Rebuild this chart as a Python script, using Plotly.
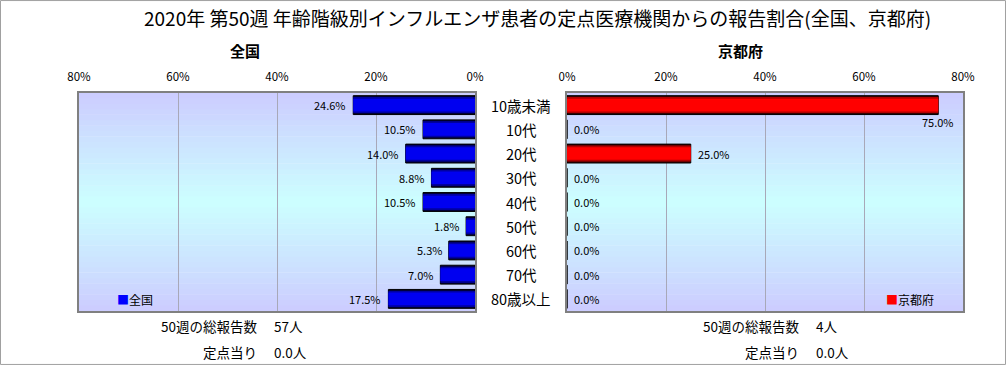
import plotly.graph_objects as go

categories = ["10歳未満", "10代", "20代", "30代", "40代", "50代", "60代", "70代", "80歳以上"]
zenkoku = [24.6, 10.5, 14.0, 8.8, 10.5, 1.8, 5.3, 7.0, 17.5]
kyoto = [75.0, 0.0, 25.0, 0.0, 0.0, 0.0, 0.0, 0.0, 0.0]
tick_vals = [0, 20, 40, 60, 80]
tick_text = ["0%", "20%", "40%", "60%", "80%"]
title_text = "2020年 第50週 年齢階級別インフルエンザ患者の定点医療機関からの報告割合(全国、京都府)"
left_name, right_name = "全国", "京都府"
left_total, right_total = "57人", "4人"
left_per, right_per = "0.0人", "0.0人"

W, H = 1006, 365
FONT = "Noto Sans CJK JP"

def px(x):
    return x / W

def py(y):
    return 1 - y / H

fig = go.Figure()

layers_blue = [(0.78, "#00003a"), (0.66, "#0000a0"), (0.52, "#0000f0")]
layers_red = [(0.78, "#3a0000"), (0.66, "#b00000"), (0.52, "#ff0000")]

for i, (w, c) in enumerate(layers_blue):
    fig.add_trace(go.Bar(x=zenkoku, y=categories, orientation="h", width=w,
                         marker=dict(color=c, line=dict(color="black", width=1 if i == 0 else 0)),
                         xaxis="x", yaxis="y", showlegend=False, hoverinfo="skip"))
for i, (w, c) in enumerate(layers_red):
    fig.add_trace(go.Bar(x=kyoto, y=categories, orientation="h", width=w,
                         marker=dict(color=c, line=dict(color="black", width=1 if i == 0 else 0)),
                         xaxis="x2", yaxis="y2", showlegend=False, hoverinfo="skip"))

LX = [px(79), px(475)]
RX = [px(567), px(963)]
YD = [py(311), py(93)]
n = len(categories)

axis_common = dict(tickvals=tick_vals, ticktext=tick_text, side="top", showline=True, mirror=True,
                   linecolor="#808080", linewidth=1.5, showgrid=True, gridcolor="#a8a8b8", gridwidth=1,
                   zeroline=False, ticks="outside", ticklen=6, tickcolor="rgba(0,0,0,0)", automargin=False,
                   tickfont=dict(family=FONT, size=11.5, color="black"))
yaxis_common = dict(domain=YD, type="category", categoryorder="array", categoryarray=categories,
                    range=[n - 0.5, -0.5], autorange=False,
                    showticklabels=False, showline=True, mirror=True, linecolor="#808080", linewidth=1.5,
                    showgrid=False, zeroline=False, automargin=False)
fig.update_layout(
    xaxis=dict(domain=LX, range=[80, 0], anchor="y", **axis_common),
    xaxis2=dict(domain=RX, range=[0, 80], anchor="y2", **axis_common),
    yaxis=dict(anchor="x", **yaxis_common),
    yaxis2=dict(anchor="x2", **yaxis_common),
    barmode="overlay",
    width=W, height=H,
    margin=dict(l=0, r=0, t=0, b=0, pad=0, autoexpand=False),
    paper_bgcolor="white",
    plot_bgcolor="rgba(0,0,0,0)",
    font=dict(family=FONT, size=11, color="black"),
    showlegend=False,
)

# gradient background strips
shapes = []
N = 40
top = (204, 204, 255)
mid = (204, 255, 255)
for xr, yr in [("x domain", "y domain"), ("x2 domain", "y2 domain")]:
    for k in range(N):
        t = (k + 0.5) / N
        f = 1 - abs(t - 0.5) * 2
        col = tuple(round(top[j] + (mid[j] - top[j]) * f) for j in range(3))
        shapes.append(dict(type="rect", xref=xr, yref=yr, x0=0, x1=1, y0=k / N, y1=(k + 1) / N + 0.002,
                           fillcolor="rgb(%d,%d,%d)" % col, line=dict(width=0), layer="below"))
shapes.append(dict(type="rect", xref="paper", yref="paper", x0=0.0005, x1=0.9995, y0=0.0015, y1=0.9985,
                   line=dict(color="#a0a0a0", width=1), fillcolor="rgba(0,0,0,0)"))
fig.update_layout(shapes=shapes)

ann = []

def add(text, x, y, xanchor="center", size=12, **kw):
    ann.append(dict(text=text, x=px(x), y=py(y), xref="paper", yref="paper", xanchor=xanchor,
                    yanchor="middle", showarrow=False, font=dict(size=size, family=FONT), **kw))

add(title_text, 537, 17, size=19)
add("<b>" + left_name + "</b>", 245, 51, size=15)
add("<b>" + right_name + "</b>", 740, 51, size=15)
for c in categories:
    ann.append(dict(text=c, x=px(521), xref="paper", y=c, yref="y", xanchor="center", yanchor="middle",
                    showarrow=False, font=dict(size=14.5, family=FONT)))
for c, v in zip(categories, zenkoku):
    ann.append(dict(text="%.1f%%" % v, x=v, y=c, xref="x", yref="y", xanchor="right", yanchor="middle",
                    xshift=-5, showarrow=False, font=dict(size=11, family=FONT)))
for c, v in zip(categories, kyoto):
    if v > 65:
        ann.append(dict(text="%.1f%%" % v, x=v, y=c, xref="x2", yref="y2", xanchor="right", yanchor="middle",
                        xshift=18, yshift=-17, showarrow=False, font=dict(size=11, family=FONT)))
    else:
        ann.append(dict(text="%.1f%%" % v, x=v, y=c, xref="x2", yref="y2", xanchor="left", yanchor="middle",
                        xshift=5, showarrow=False, font=dict(size=11, family=FONT)))
add("<span style='color:#0000ff'>■</span>" + left_name, 115, 299, xanchor="left", size=12)
add("<span style='color:#ff0000'>■</span>" + right_name, 884, 299, xanchor="left", size=12)
for xr, total, per in [(259, left_total, left_per), (801, right_total, right_per)]:
    add("50週の総報告数", xr, 326, xanchor="right", size=13.5)
    add(total, xr + 13, 326, xanchor="left", size=13.5)
    add("定点当り", xr, 352, xanchor="right", size=13.5)
    add(per, xr + 13, 352, xanchor="left", size=13.5)
fig.update_layout(annotations=ann)

fig.write_html("out.html", config={"displayModeBar": False},
               post_script="document.body.style.margin='0';document.body.style.overflow='hidden';")
